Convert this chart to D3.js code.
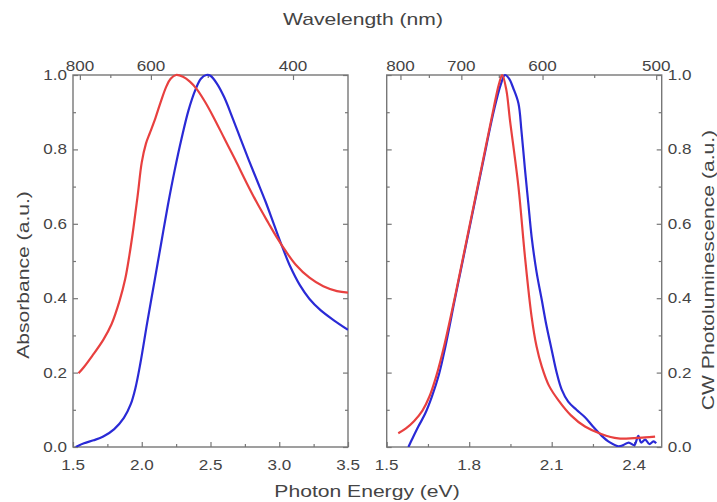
<!DOCTYPE html>
<html><head><meta charset="utf-8">
<script src="https://cdn.jsdelivr.net/npm/d3@7"></script>
<style>html,body{margin:0;padding:0;background:#fff;}svg{display:block;}</style>
</head><body>
<svg id="c" width="717" height="502"></svg>
<script>
// ---------- data ----------
const absRed = [[1.54,0.198],[1.58,0.215],[1.64,0.245],[1.72,0.288],[1.78,0.33],[1.84,0.395],[1.88,0.452],[1.91,0.515],[1.94,0.59],[1.97,0.675],[2.00,0.765],[2.03,0.815],[2.06,0.845],[2.10,0.885],[2.14,0.93],[2.18,0.97],[2.21,0.99],[2.25,1.0],[2.30,0.995],[2.35,0.982],[2.40,0.962],[2.46,0.928],[2.52,0.888],[2.60,0.83],[2.68,0.772],[2.76,0.712],[2.84,0.655],[2.92,0.603],[2.98,0.565],[3.05,0.525],[3.12,0.49],[3.22,0.455],[3.32,0.432],[3.42,0.419],[3.5,0.415]];
const absBlue = [[1.52,0.0],[1.58,0.01],[1.65,0.018],[1.72,0.028],[1.80,0.048],[1.87,0.078],[1.92,0.115],[1.955,0.16],[1.99,0.225],[2.04,0.335],[2.09,0.44],[2.14,0.545],[2.19,0.65],[2.24,0.745],[2.29,0.83],[2.34,0.905],[2.39,0.96],[2.43,0.99],[2.47,1.0],[2.50,0.998],[2.55,0.975],[2.60,0.94],[2.66,0.885],[2.72,0.827],[2.78,0.77],[2.84,0.715],[2.90,0.66],[2.96,0.60],[3.02,0.54],[3.08,0.485],[3.15,0.435],[3.22,0.398],[3.30,0.368],[3.40,0.34],[3.5,0.315]];
const plRed = [[1.542,0.037],[1.57,0.05],[1.60,0.07],[1.63,0.098],[1.655,0.135],[1.68,0.19],[1.71,0.275],[1.75,0.41],[1.80,0.59],[1.85,0.77],[1.89,0.915],[1.908,0.975],[1.92,1.0],[1.935,0.96],[1.948,0.88],[1.979,0.70],[2.003,0.51],[2.027,0.35],[2.045,0.27],[2.064,0.216],[2.09,0.165],[2.124,0.126],[2.17,0.085],[2.221,0.055],[2.28,0.035],[2.342,0.023],[2.40,0.024],[2.44,0.026],[2.476,0.028]];
const plBlue = [[1.579,0.0],[1.595,0.025],[1.615,0.055],[1.64,0.09],[1.664,0.135],[1.69,0.195],[1.712,0.265],[1.75,0.405],[1.80,0.585],[1.85,0.765],[1.89,0.905],[1.915,0.975],[1.93,1.0],[1.945,0.99],[1.96,0.965],[1.979,0.924],[1.99,0.85],[2.003,0.745],[2.015,0.655],[2.027,0.565],[2.045,0.47],[2.064,0.395],[2.08,0.33],[2.10,0.261],[2.118,0.2],[2.136,0.155],[2.16,0.122],[2.19,0.1],[2.221,0.08],[2.25,0.055],[2.282,0.03],[2.31,0.013],[2.342,0.002],[2.36,0.005],[2.38,0.012],[2.40,0.005],[2.415,0.03],[2.425,0.012],[2.44,0.02],[2.455,0.008],[2.47,0.015],[2.48,0.01]];

const eTicksL = [1.5,2.0,2.5,3.0,3.5];
const eMinorL = [1.75,2.25,2.75,3.25];
const eTicksR = [1.5,1.8,2.1,2.4];
const eMinorR = [1.65,1.95,2.25];
const wlMajorL = [800,600,400];
const wlMinorL = [700,500];
const wlMajorR = [800,700,600,500];
const wlMinorR = [750,650,550];
const yMajor = [0,0.2,0.4,0.6,0.8,1.0];
const yMinor = [0.1,0.3,0.5,0.7,0.9];

// ---------- layout ----------
const svg = d3.select("#c");
const top_ = 75, bottom = 447;
const panelL = {x0:73, x1:348, dom:[1.5,3.5]};
const panelR = {x0:386.7, x1:661.7, dom:[1.5,2.5]};
const y = d3.scaleLinear().domain([0,1]).range([bottom, top_]);
const RED = "#e8403f", BLUE = "#2a2ad6";
const AX = "#777", TXT = "#444";
const SX = 1.22;
const TSX = 1.32;

function label(g, x, yy, txt, anchor, size, sx) {
  g.append("text").attr("transform", `translate(${x},${yy}) scale(${sx},1)`)
    .attr("text-anchor", anchor).attr("font-family", "Liberation Sans, Arial, sans-serif")
    .attr("font-size", size).attr("fill", TXT).text(txt);
}

function styleAxis(g){ g.select(".domain").remove(); g.selectAll("line").attr("stroke", AX).attr("stroke-width",1.2); }

function panel(p, red, blue, eMaj, eMin, wMaj, wMin, yLabelsLeft, yLabelsRight) {
  const x = d3.scaleLinear().domain(p.dom).range([p.x0, p.x1]);
  const g = svg.append("g");
  const id = "clip" + Math.round(p.x0);
  svg.append("clipPath").attr("id", id).append("rect")
    .attr("x", p.x0).attr("y", top_-3).attr("width", p.x1-p.x0).attr("height", bottom-top_+3);
  const mk = (axisFn, scale, vals, size, tr) => {
    const a = g.append("g").attr("transform", tr)
      .call(axisFn(scale).tickValues(vals).tickSize(-size).tickFormat(""));
    styleAxis(a);
  };
  mk(d3.axisBottom, x, eMaj, 5, `translate(0,${bottom})`);
  mk(d3.axisBottom, x, eMin, 3, `translate(0,${bottom})`);
  const wx = w => 1240 / w;
  mk(d3.axisTop, x, wMaj.map(wx), 5, `translate(0,${top_})`);
  mk(d3.axisTop, x, wMin.map(wx), 3, `translate(0,${top_})`);
  mk(d3.axisLeft, y, yMajor, 5, `translate(${p.x0},0)`);
  mk(d3.axisLeft, y, yMinor, 3, `translate(${p.x0},0)`);
  mk(d3.axisRight, y, yMajor, 5, `translate(${p.x1},0)`);
  mk(d3.axisRight, y, yMinor, 3, `translate(${p.x1},0)`);
  g.append("rect").attr("x", p.x0).attr("y", top_).attr("width", p.x1-p.x0).attr("height", bottom-top_)
    .attr("fill","none").attr("stroke", AX).attr("stroke-width",1.4);
  const line = d3.line().x(d=>x(d[0])).y(d=>y(d[1])).curve(d3.curveCatmullRom.alpha(0.5));
  const cg = g.append("g").attr("clip-path", `url(#${id})`);
  cg.append("path").datum(blue).attr("d", line).attr("fill","none").attr("stroke", BLUE).attr("stroke-width",2.2);
  cg.append("path").datum(red).attr("d", line).attr("fill","none").attr("stroke", RED).attr("stroke-width",2.2);
  eMaj.forEach(v => label(g, x(v), 470, v.toFixed(1), "middle", 14, SX));
  wMaj.forEach(w => label(g, x(wx(w)), 71, String(w), "middle", 14, SX));
  if (yLabelsLeft) yMajor.forEach(v => label(g, p.x0-6, y(v)+5, v.toFixed(1), "end", 14, SX));
  if (yLabelsRight) yMajor.forEach(v => label(g, p.x1+6, y(v)+5, v.toFixed(1), "start", 14, SX));
}

panel(panelL, absRed, absBlue, eTicksL, eMinorL, wlMajorL, wlMinorL, true, false);
panel(panelR, plRed, plBlue, eTicksR, eMinorR, wlMajorR, wlMinorR, false, true);

label(svg, 363, 25, "Wavelength (nm)", "middle", 16, TSX);
label(svg, 367, 497, "Photon Energy (eV)", "middle", 16, TSX);
svg.append("text").attr("transform", `translate(29,275) rotate(-90) scale(${TSX},1)`)
  .attr("text-anchor","middle").attr("font-family","Liberation Sans, Arial, sans-serif")
  .attr("font-size",16).attr("fill",TXT).text("Absorbance (a.u.)");
svg.append("text").attr("transform", `translate(714,270) rotate(-90) scale(${TSX},1)`)
  .attr("text-anchor","middle").attr("font-family","Liberation Sans, Arial, sans-serif")
  .attr("font-size",16).attr("fill",TXT).text("CW Photoluminescence (a.u.)");
</script>
</body></html>
